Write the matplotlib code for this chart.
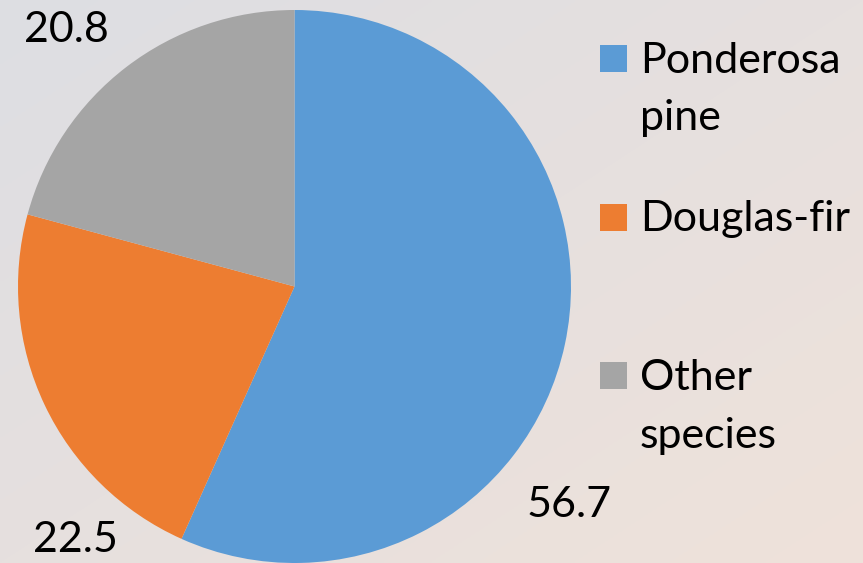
import numpy as np
import matplotlib
matplotlib.use("Agg")
import matplotlib.pyplot as plt
from matplotlib.patches import Rectangle

species = ["Ponderosa\npine", "Douglas-fir", "Other\nspecies"]
values = [56.7, 22.5, 20.8]
colors = ["#5B9BD5", "#ED7D31", "#A5A5A5"]
value_labels = ["56.7", "22.5", "20.8"]

W, H = 863, 563
fig = plt.figure(figsize=(W / 100, H / 100), dpi=100)

# background gradient
bg = fig.add_axes([0, 0, 1, 1])
xx, yy = np.meshgrid(np.linspace(0, 1, 200), np.linspace(0, 1, 200))
t = np.clip((xx + yy) / 2, 0, 1)  # 0 at top-left, 1 at bottom-right (origin upper)
c0 = np.array([221, 222, 227]) / 255
c1 = np.array([239, 226, 218]) / 255
img = c0[None, None, :] * (1 - t[..., None]) + c1[None, None, :] * t[..., None]
bg.imshow(img, aspect="auto", extent=[0, 1, 0, 1], origin="upper")
bg.axis("off")

FONT = "Lato"
FS = 31

cx, cy, R = 294.5, 286.5, 276.5
ax = fig.add_axes([(cx - R) / W, (H - cy - R) / H, 2 * R / W, 2 * R / H])
ax.pie(values, colors=colors, startangle=90, counterclock=False, radius=1,
       wedgeprops=dict(linewidth=0))
ax.set_xlim(-1, 1)
ax.set_ylim(-1, 1)
ax.set_aspect("equal")
ax.axis("off")

# data label positions (pixel, baseline-centre)
label_px = [(569, 517), (75, 552), (66, 42)]
for lab, (px, py) in zip(value_labels, label_px):
    ax.text((px - cx) / R, (cy - py) / R, lab, ha="center", va="baseline",
            fontsize=FS, family=FONT, color="black", clip_on=False)

# legend
sq = 27
entries = [(45, [73, 130]), (204, [231]), (362, [390, 448])]
for (top, baselines), name, col in zip(entries, species, colors):
    fig.patches.append(Rectangle((600 / W, 1 - (top + sq) / H), sq / W, sq / H,
                                 transform=fig.transFigure, color=col, lw=0))
    for line, b in zip(name.split("\n"), baselines):
        fig.text(640 / W, 1 - b / H, line, ha="left", va="baseline",
                 fontsize=FS, family=FONT, color="black")

fig.savefig("out.png", dpi=100)
